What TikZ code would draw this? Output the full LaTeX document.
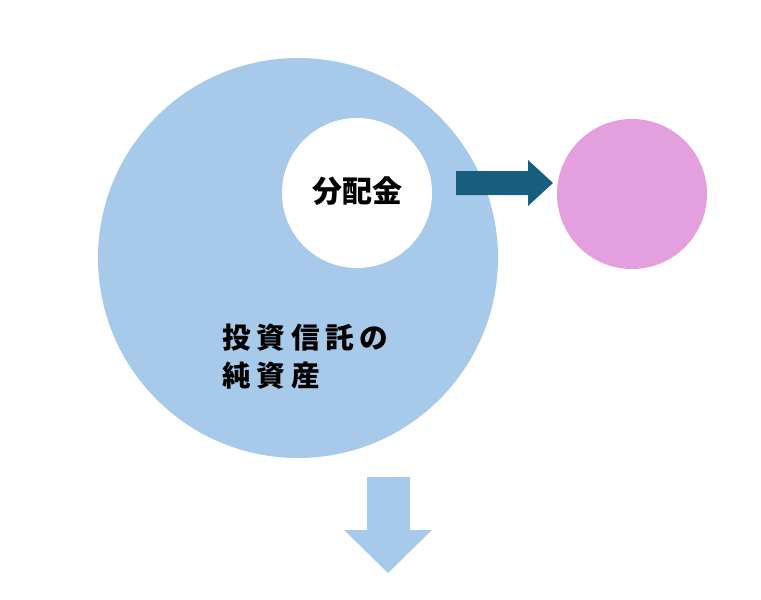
\documentclass[tikz,border=0pt]{standalone}
\usepackage{fontspec}
\newfontfamily\cjk{Noto Sans CJK JP}
\definecolor{lblue}{HTML}{A7CAEB}
\definecolor{dblue}{HTML}{175E7E}
\definecolor{pink}{HTML}{E4A0DE}
\begin{document}
\begin{tikzpicture}[x=0.75pt,y=-0.75pt,
  lbl/.style={font=\cjk\bfseries\fontsize{22}{29}\selectfont,text=black,inner sep=0pt}]
\useasboundingbox (0,0) rectangle (761,600);
\node[circle,fill=lblue,minimum size=400*0.75pt,inner sep=0pt] (big) at (298,258) {};
\node[circle,fill=white,minimum size=150*0.75pt,inner sep=0pt] (div) at (357,193) {};
\node[lbl,font=\cjk\bfseries\fontsize{22.5}{29}\selectfont] (divt) at (357,191) {分配金};
\node[circle,fill=pink,minimum size=150*0.75pt,inner sep=0pt] (pk) at (632,194) {};
\node[lbl,font=\cjk\bfseries\fontsize{21.5}{28.5}\selectfont,anchor=north west,align=left] (nav) at (222,324) {投\hspace{0.2em}資\hspace{0.2em}信\hspace{0.2em}託\hspace{0.2em}の\\純\hspace{0.2em}資\hspace{0.2em}産};
\fill[dblue] (456,171) -- (528,171) -- (528,160) -- (553,183) -- (528,206) -- (528,195) -- (456,195) -- cycle;
\fill[lblue] (367,477) -- (410,477) -- (410,530) -- (432,530) -- (388,573) -- (344,530) -- (367,530) -- cycle;
\end{tikzpicture}
\end{document}
